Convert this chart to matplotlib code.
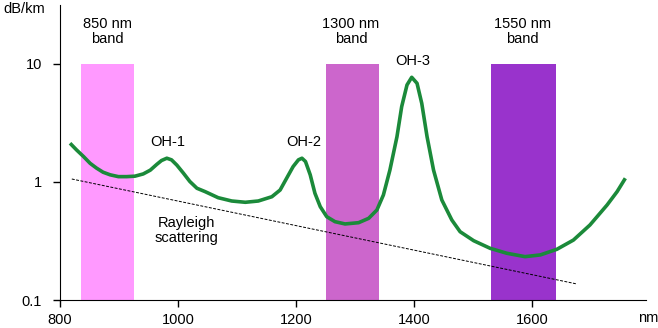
import matplotlib
matplotlib.use("Agg")
import matplotlib.pyplot as plt

plt.rcParams['font.family'] = ['Liberation Sans', 'DejaVu Sans']

# attenuation curve (nm, dB/km)
wavelength = [817, 828, 840, 851, 862, 873, 885, 899, 913, 927,
              941, 953, 964, 972, 981, 989, 998, 1009, 1020, 1032,
              1046, 1068, 1091, 1114, 1136, 1159, 1173, 1184, 1195, 1204,
              1210, 1216, 1224, 1232, 1241, 1252, 1266, 1283, 1306, 1323,
              1337, 1348, 1359, 1371, 1379, 1388, 1396, 1405, 1413, 1422,
              1433, 1447, 1464, 1478, 1501, 1529, 1557, 1588, 1614, 1642,
              1670, 1698, 1727, 1744, 1758]
loss = [2.13, 1.87, 1.64, 1.44, 1.31, 1.21, 1.15, 1.11, 1.11, 1.12,
        1.17, 1.26, 1.41, 1.52, 1.59, 1.54, 1.39, 1.19, 1.01, 0.885,
        0.828, 0.736, 0.690, 0.673, 0.690, 0.75, 0.855, 1.075, 1.35, 1.54,
        1.59, 1.49, 1.15, 0.802, 0.618, 0.508, 0.461, 0.441, 0.452, 0.492,
        0.579, 0.776, 1.26, 2.42, 4.35, 6.64, 7.71, 6.86, 4.64, 2.42,
        1.26, 0.704, 0.476, 0.379, 0.318, 0.274, 0.249, 0.233, 0.241, 0.269,
        0.322, 0.432, 0.638, 0.828, 1.075]

rayleigh_nm = [820, 1675]
rayleigh_loss = [1.06, 0.137]

band_names = ['850 nm\nband', '1300 nm\nband', '1550 nm\nband']
band_edges = [(835, 925), (1250, 1340), (1530, 1640)]
band_text_x = [880, 1293, 1583]
band_colors = ['#FF99FF', '#CC66CC', '#9933CC']

peak_names = ['OH-1', 'OH-2', 'OH-3']
peak_x = [983, 1213, 1397]
peak_y = [2.18, 2.18, 10.6]

xticks = [800, 1000, 1200, 1400, 1600]
yticks = [0.1, 1, 10]
ytick_labels = ['0.1', '1', '10']

fig = plt.figure(figsize=(6.58, 3.28), dpi=100)
ax = fig.add_axes([60/658, 28/328, 586/658, 295/328])
ax.set_yscale('log')
ax.set_xlim(800, 1793)
ax.set_ylim(0.1, 31.6)

# bands
for (lo, hi), c in zip(band_edges, band_colors):
    ax.fill_between([lo, hi], 0.1, 10, color=c, lw=0, zorder=1)
for name, x in zip(band_names, band_text_x):
    ax.text(x, 18.7, name, ha='center', va='center', fontsize=10.5,
            linespacing=1.1)

# rayleigh line
ax.plot(rayleigh_nm, rayleigh_loss, color='black', lw=0.7,
        dashes=(3, 1.5), zorder=2)
ax.text(1015, 0.385, 'Rayleigh\nscattering', ha='center', va='center',
        fontsize=10.5, linespacing=1.1)

# attenuation curve
ax.plot(wavelength, loss, color='#1B8A3A', lw=2.6, solid_joinstyle='round',
        solid_capstyle='butt', zorder=3)
for name, x, y in zip(peak_names, peak_x, peak_y):
    ax.text(x, y, name, ha='center', va='center', fontsize=10.5)

ax.spines['top'].set_visible(False)
ax.spines['right'].set_visible(False)
ax.set_xticks(xticks)
ax.set_xticklabels([str(t) for t in xticks])
ax.set_yticks(yticks)
ax.set_yticklabels(ytick_labels)
ax.yaxis.set_minor_locator(matplotlib.ticker.NullLocator())
ax.tick_params(axis='both', length=5, width=1, labelsize=10.5)
ax.tick_params(axis='y', pad=8)
ax.tick_params(axis='x', pad=4)

fig.text(3/658, 1 - 9/328, 'dB/km', ha='left', va='center', fontsize=10.5)
fig.text(638/658, 1 - 318/328, 'nm', ha='left', va='center', fontsize=10.5)

fig.savefig('out.png', dpi=100)
